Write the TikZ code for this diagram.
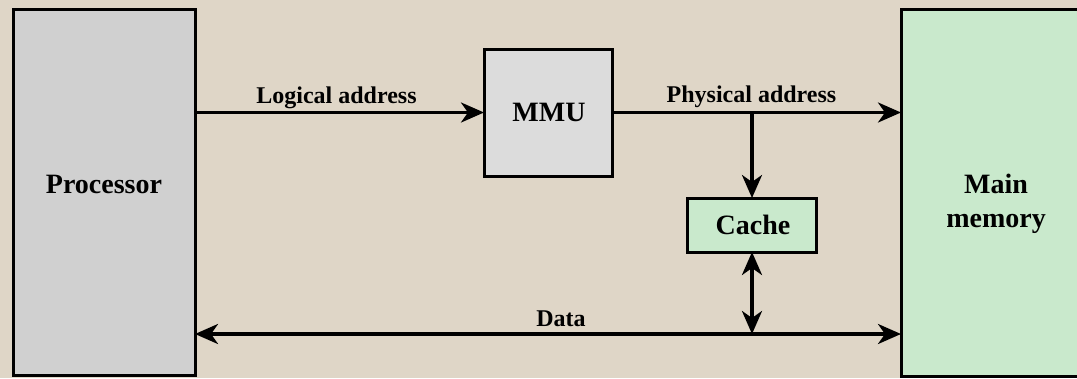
\documentclass[tikz,border=0pt]{standalone}
\usepackage{fontspec}
\setmainfont{Liberation Serif}
\usetikzlibrary{arrows.meta}
\definecolor{bgc}{RGB}{223,214,199}
\definecolor{procc}{RGB}{208,208,208}
\definecolor{mmuc}{RGB}{220,220,220}
\definecolor{grnc}{RGB}{201,233,204}
\tikzset{
  box/.style={draw=black, line width=3pt, rectangle, inner sep=0pt, outer sep=0pt},
  big/.style={font=\fontsize{28}{34}\selectfont\bfseries, anchor=base, align=center},
  lab/.style={font=\fontsize{24}{28}\selectfont\bfseries, anchor=base},
  conn/.style={line width=3.5pt, -{Stealth[length=23pt,width=20pt,inset=7pt]}},
  conn2/.style={line width=3.5pt, {Stealth[length=23pt,width=20pt,inset=7pt]}-{Stealth[length=23pt,width=20pt,inset=7pt]}}
}
\begin{document}
\begin{tikzpicture}[x=1pt,y=-1pt]
\useasboundingbox (0,0) rectangle (1077,378);
\fill[bgc] (0,0) rectangle (1077,378);
% boxes
\node[box, fill=procc, minimum width=182pt, minimum height=366pt] (proc) at (104,192) {};
\node[box, fill=mmuc, minimum width=128pt, minimum height=127pt] (mmu) at (548,112.5) {};
\node[box, fill=grnc, minimum width=129pt, minimum height=54pt] (cache) at (751.5,225) {};
\node[box, fill=grnc, minimum width=192pt, minimum height=367pt] (mem) at (997,192.5) {};
% box texts
\node[big] (proct) at (104,193) {Processor};
\node[big] (mmut) at (549,121) {MMU};
\node[big] (cachet) at (753,234) {Cache};
\node[big] (memt1) at (996,193) {Main};
\node[big] (memt2) at (996,227) {memory};
% coordinates
\coordinate (br) at (752,113);
\coordinate (dataY) at (752,334);
% connectors
\draw[conn] (proc.east |- mmu.west) -- (mmu.west);
\draw[conn] (mmu.east) -- (mem.west |- mmu.east);
\draw[conn] (br) -- (br |- cache.north);
\draw[conn2] (proc.east |- dataY) -- (mem.west |- dataY);
\draw[conn2] (br |- cache.south) -- (dataY);
% labels
\node[lab] (la) at (336.5,103) {Logical address};
\node[lab] (pa) at (751.5,102) {Physical address};
\node[lab] (da) at (561,326) {Data};
\end{tikzpicture}
\end{document}
